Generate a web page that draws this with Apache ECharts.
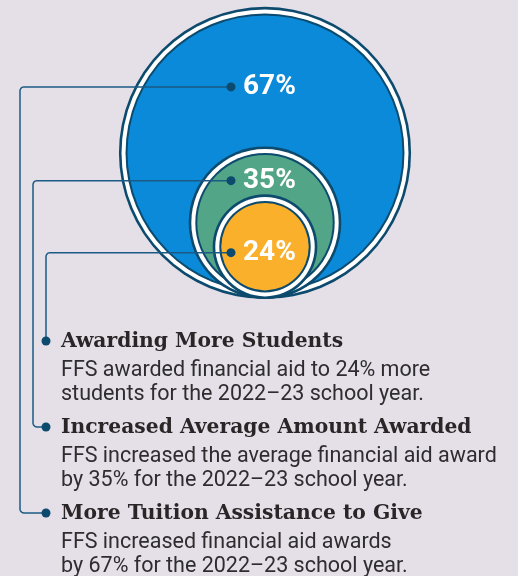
<!DOCTYPE html>
<html>
<head>
<meta charset="utf-8">
<script src="https://cdn.jsdelivr.net/npm/echarts@6/dist/echarts.min.js"></script>
<style>
html,body{margin:0;padding:0;background:#e5e0e8;}
#chart{width:518px;height:576px;}
</style>
</head>
<body>
<div id="chart"></div>
<script>
// ---- data ----
const values = [67, 35, 24];
const valueLabels = ['67%', '35%', '24%'];
const colors = ['#0a8ad8', '#52a586', '#fbb02b'];
const headings = [
  'More Tuition Assistance to Give',
  'Increased Average Amount Awarded',
  'Awarding More Students'
];
const descriptions = [
  ['FFS increased financial aid awards', 'by 67% for the 2022–23 school year.'],
  ['FFS increased the average financial aid award', 'by 35% for the 2022–23 school year.'],
  ['FFS awarded financial aid to 24% more', 'students for the 2022–23 school year.']
];

// ---- styles / layout ----
const NAVY = '#0c4a6e';
const LINE = '#1b5a84';
const HEAD_FONT = 'bold 20.3px "DejaVu Serif", serif';
const BODY_FONT = '21.5px Roboto, "Noto Sans", sans-serif';
const LABEL_FONT = 'bold 28px Roboto, sans-serif';
const TEXT_X = 61, HEAD_DOT_X = 46, ROW0_Y = 341, ROW_STEP = 86;

const chart = echarts.init(document.getElementById('chart'), null, {renderer: 'canvas'});

function cornerPoints(path, cx, cy, r, a0, a1) {
  const steps = 5;
  for (let k = 0; k <= steps; k++) {
    const a = a0 + (a1 - a0) * k / steps;
    path.push([cx + r * Math.cos(a), cy + r * Math.sin(a)]);
  }
}

function renderItem(params, api) {
  const i = params.dataIndex;
  const n = values.length;
  const v = api.value(1);
  const c = api.coord([0, v]);
  const r = api.size([0, v])[1];
  const cx = c[0], cy = c[1];
  const children = [];
  const rings = [
    [r, NAVY], [r - 2.6, '#ffffff'], [r - 6.6, NAVY], [r - 8.6, colors[i]]
  ];
  rings.forEach(function (rg) {
    children.push({type: 'circle', shape: {cx: cx, cy: cy, r: rg[0]}, style: {fill: rg[1]}});
  });
  const fillTop = cy - r + 8.6;
  let nextTop;
  if (i < n - 1) {
    nextTop = api.coord([0, 2 * values[i + 1]])[1];
  } else {
    nextTop = cy + r - 8.6;
  }
  const ly = (fillTop + nextTop) / 2 + 6;
  // leader line
  const row = n - 1 - i;
  const hy = ROW0_Y + row * ROW_STEP;
  const colX = 20 + 13 * i;
  const dotX = cx - 34;
  const rc = 4;
  const pts = [[dotX, ly]];
  if (colX < HEAD_DOT_X - 1) {
    pts.push([colX + rc, ly]);
    cornerPoints(pts, colX + rc, ly + rc, rc, -Math.PI / 2, -Math.PI);
    pts.push([colX, hy - rc]);
    cornerPoints(pts, colX + rc, hy - rc, rc, Math.PI, Math.PI / 2);
    pts.push([HEAD_DOT_X, hy]);
  } else {
    pts.push([colX + rc, ly]);
    cornerPoints(pts, colX + rc, ly + rc, rc, -Math.PI / 2, -Math.PI);
    pts.push([colX, hy]);
  }
  children.push({type: 'polyline', shape: {points: pts}, style: {stroke: LINE, lineWidth: 1.5, fill: null}, z2: 10});
  children.push({type: 'circle', shape: {cx: dotX, cy: ly, r: 4.5}, style: {fill: NAVY}, z2: 11});
  children.push({type: 'circle', shape: {cx: HEAD_DOT_X, cy: hy, r: 4.5}, style: {fill: NAVY}, z2: 11});
  // value label
  children.push({type: 'text', style: {text: valueLabels[i], x: cx - 22, y: ly, font: LABEL_FONT, fill: '#ffffff', align: 'left', verticalAlign: 'middle'}, z2: 12});
  // heading + description
  children.push({type: 'text', style: {text: headings[i], x: TEXT_X, y: hy + 1, font: HEAD_FONT, fill: '#2a2627', align: 'left', verticalAlign: 'middle'}, z2: 12});
  descriptions[i].forEach(function (line, k) {
    children.push({type: 'text', style: {text: line, x: TEXT_X, y: hy + 29.5 + 24 * k, font: BODY_FONT, fill: '#2e2c2e', align: 'left', verticalAlign: 'middle'}, z2: 12});
  });
  return {type: 'group', children: children};
}

chart.setOption({
  backgroundColor: '#e5e0e8',
  animation: false,
  grid: {left: 65, right: 53, top: 2.5, bottom: 277},
  xAxis: {type: 'value', min: -100, max: 100, show: false},
  yAxis: {type: 'value', min: 0, max: 136, show: false},
  series: [{
    type: 'custom',
    renderItem: renderItem,
    clip: false,
    data: values.map(function (v) { return [0, v]; })
  }]
});
</script>
</body>
</html>
